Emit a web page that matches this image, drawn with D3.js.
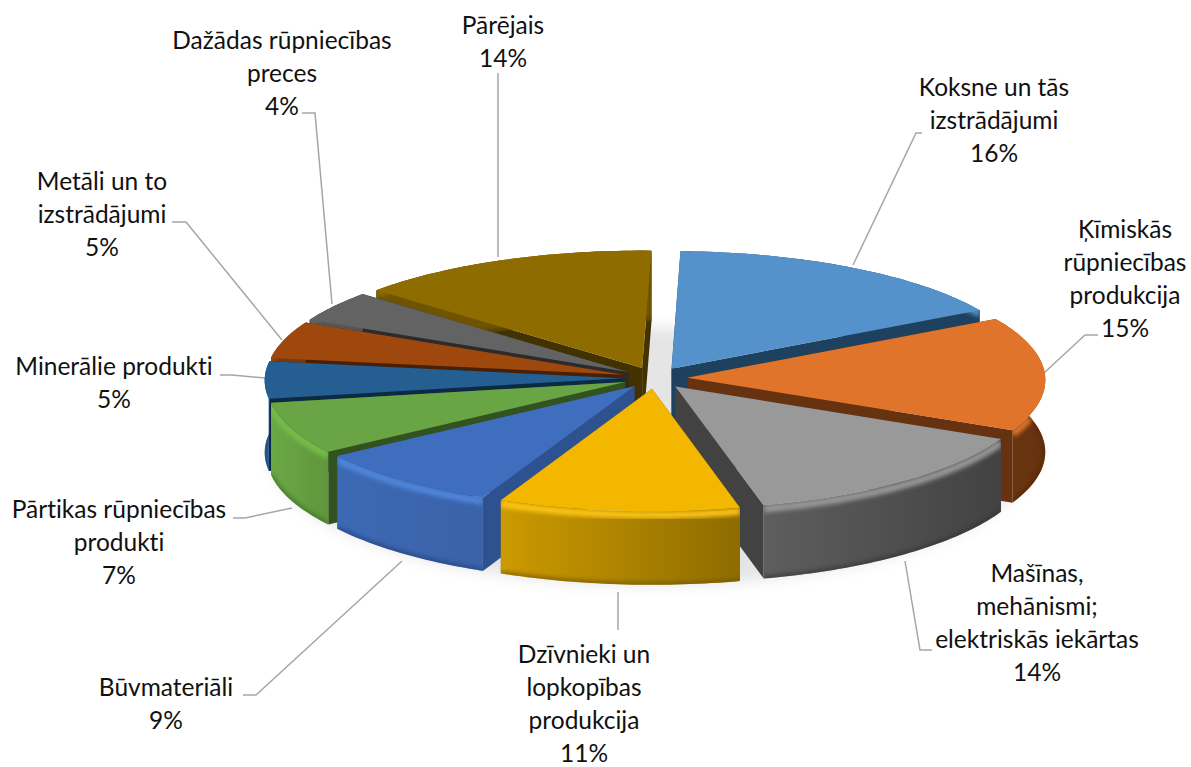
<!DOCTYPE html>
<html>
<head>
<meta charset="utf-8">
<style>
    html, body { margin: 0; padding: 0; background: #fff; }
    text { font-family: Lato, "Open Sans", sans-serif; font-size: 24.5px; fill: #111; text-anchor: middle; font-variant-ligatures: none; }
</style>
<script src="https://cdn.jsdelivr.net/npm/d3@7"></script>
</head>
<body>
<svg id="chart" width="1191" height="767"></svg>
<script>
// dati
let categories = [
    ['Koksne un tās', 'izstrādājumi'],
    ['Ķīmiskās', 'rūpniecības', 'produkcija'],
    ['Mašīnas,', 'mehānismi;', 'elektriskās iekārtas'],
    ['Dzīvnieki un', 'lopkopības', 'produkcija'],
    ['Būvmateriāli'],
    ['Pārtikas rūpniecības', 'produkti'],
    ['Minerālie produkti'],
    ['Metāli un to', 'izstrādājumi'],
    ['Dažādas rūpniecības', 'preces'],
    ['Pārējais']
];
let values = [16.4, 15.4, 14.0, 10.7, 8.5, 7, 5, 5, 4.2, 14];

// krāsas: virsma, griezums, sāna gradients, mala
let topColors = ['#5592cb', '#e0742b', '#999999', '#f4b700', '#3f6ebf', '#69a544', '#255e91', '#9e480e', '#636363', '#8e6c00'];
let cutColors = ['#1f4160', '#66320f', '#424242', '#7a5d00', '#2e5190', '#325220', '#0d2a45', '#4a2005', '#2b2b2b', '#413200'];
let wallLeft = ['#1f4160', '#6b3510', '#5e5e5e', '#cc9a00', '#3d69b4', '#6ba846', '#2a74b8', '#7a380b', '#555555', '#6e5400'];
let wallRight = ['#1f4160', '#66320f', '#424242', '#8e6c00', '#3a62a8', '#5f963c', '#1e5a90', '#7a380b', '#555555', '#6e5400'];
let rimColors = ['#5592cb', '#e0742b', '#999999', '#fcc514', '#4f86dc', '#76bd4a', '#3a86cf', '#9e480e', '#636363', '#8e6c00'];
let edgeColors = ['#1f4160', '#522808', '#333333', '#6e5400', '#223f78', '#3f6a26', '#123a5c', '#4a2005', '#2b2b2b', '#413200'];

// etiķešu izkārtojums: centra x, pirmās rindas y
let labelPos = [[994, 96], [1125, 238], [1037, 582], [584, 663], [166, 696], [119, 518], [114, 375], [102, 190], [282, 49], [503, 34]];
let leaders = [
    [[853, 265], [916, 133], [922, 133]],
    [[1044, 373], [1085, 335], [1098, 335]],
    [[905, 561], [920, 650], [932, 650]],
    [[618, 592], [618, 630]],
    [[402, 561], [256, 695], [243, 695]],
    [[292, 508], [245, 518], [233, 518]],
    [[265, 378], [232, 375], [220, 375]],
    [[282, 340], [186, 222], [172, 222]],
    [[332, 304], [315, 113], [302, 113]],
    [[498, 257], [498, 73]]
];

let cx = 655, cy = 378, rx = 358, ry = 120, depth = 72;
let persp = 0.018, explode = 0.09;
let firstAngle = 1.5 * Math.PI / 180;

let svg = d3.select('#chart');
let defs = svg.append('defs');
defs.append('filter').attr('id', 'blurRim').attr('x', '-10%').attr('y', '-30%').attr('width', '120%').attr('height', '160%')
    .append('feGaussianBlur').attr('stdDeviation', 2.2);
defs.append('filter').attr('id', 'blurShadow').attr('x', '-10%').attr('y', '-30%').attr('width', '120%').attr('height', '160%')
    .append('feGaussianBlur').attr('stdDeviation', 7);

// diska punkts -> ekrāns
let project = function (u, v, z) {
    let s = 1 / (1 + persp * v);
    return [cx + rx * u * s, cy - ry * v * s + depth * z * s];
};
let line = d3.line();

let pie = d3.pie().sort(null)
    .startAngle(firstAngle)
    .endAngle(firstAngle + 2 * Math.PI);
let slices = pie(values).map(function (d, i) {
    let mid = (d.startAngle + d.endAngle) / 2;
    return {
        i: i,
        a0: d.startAngle,
        a1: d.endAngle,
        mid: mid,
        ou: explode * Math.sin(mid),
        ov: explode * Math.cos(mid)
    };
});

let arcPoints = function (s, z) {
    let n = Math.ceil((s.a1 - s.a0) / 0.02);
    return d3.range(n + 1).map(function (k) {
        let a = s.a0 + (s.a1 - s.a0) * k / n;
        return project(s.ou + Math.sin(a), s.ov + Math.cos(a), z);
    });
};
let tipPoint = function (s, z) {
    return project(s.ou, s.ov, z);
};
let cutFace = function (s, a) {
    let u = s.ou + Math.sin(a), v = s.ov + Math.cos(a);
    return [tipPoint(s, 0), project(u, v, 0), project(u, v, 1), tipPoint(s, 1)];
};

// ēna zem diska
let shadowPts = d3.range(0, 2 * Math.PI, 0.03).map(function (a) {
    return project(1.06 * Math.sin(a) - 0.01, 1.06 * Math.cos(a) - 0.02, 1.02);
});
svg.append('path')
    .attr('d', line(shadowPts) + 'Z')
    .attr('fill', '#000')
    .attr('fill-opacity', 0.1)
    .attr('filter', 'url(#blurShadow)');

// līnijas uz etiķetēm
svg.append('g').selectAll('path')
    .data(leaders)
    .enter()
    .append('path')
    .attr('d', function (d) { return line(d); })
    .attr('fill', 'none')
    .attr('stroke', '#a6a6a6')
    .attr('stroke-width', 1.5);

// zīmē no aizmugures uz priekšu
let order = slices.slice().sort(function (a, b) {
    return d3.descending(Math.cos(a.mid), Math.cos(b.mid));
});
let pieG = svg.append('g');
order.forEach(function (s) {
    let g = pieG.append('g');
    let i = s.i;

    let gradId = 'wall' + i;
    let grad = defs.append('linearGradient').attr('id', gradId);
    grad.append('stop').attr('offset', '0%').attr('stop-color', wallLeft[i]);
    grad.append('stop').attr('offset', '100%').attr('stop-color', wallRight[i]);

    // griezumi
    [s.a0, s.a1].forEach(function (a) {
        g.append('path')
            .attr('d', line(cutFace(s, a)) + 'Z')
            .attr('fill', cutColors[i]);
    });

    // ārējā siena
    let wall = arcPoints(s, 0).concat(arcPoints(s, 1).reverse());
    let wallD = line(wall) + 'Z';
    g.append('path').attr('d', wallD).attr('fill', 'url(#' + gradId + ')');

    let clipId = 'clip' + i;
    defs.append('clipPath').attr('id', clipId).append('path').attr('d', wallD);
    let rimG = g.append('g').attr('clip-path', 'url(#' + clipId + ')');
    rimG.append('path')
        .attr('d', line(arcPoints(s, 0.05)))
        .attr('fill', 'none')
        .attr('stroke', rimColors[i])
        .attr('stroke-width', 7)
        .attr('filter', 'url(#blurRim)');
    rimG.append('path')
        .attr('d', line(arcPoints(s, 0.99)))
        .attr('fill', 'none')
        .attr('stroke', edgeColors[i])
        .attr('stroke-width', 3)
        .attr('filter', 'url(#blurRim)');

    // virsma
    let topPts = [tipPoint(s, 0)].concat(arcPoints(s, 0));
    g.append('path').attr('d', line(topPts) + 'Z').attr('fill', topColors[i]);
});

// etiķetes
let labels = svg.append('g').selectAll('text')
    .data(categories)
    .enter()
    .append('text')
    .attr('x', function (d, i) { return labelPos[i][0]; })
    .attr('y', function (d, i) { return labelPos[i][1]; });
labels.selectAll('tspan')
    .data(function (d, i) { return d.concat([Math.round(values[i]) + '%']); })
    .enter()
    .append('tspan')
    .attr('x', function () { return d3.select(this.parentNode).attr('x'); })
    .attr('dy', function (d, i) { return i === 0 ? 0 : 33; })
    .text(function (d) { return d; });
</script>
</body>
</html>
